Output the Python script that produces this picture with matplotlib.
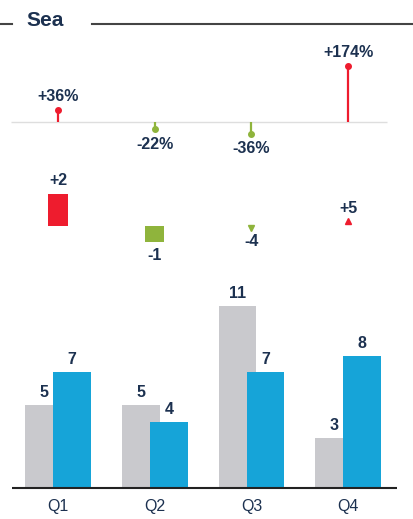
import numpy as np
import matplotlib.pyplot as plt

plt.rcParams['font.family'] = ['Liberation Sans', 'DejaVu Sans']

quarters = ['Q1', 'Q2', 'Q3', 'Q4']
py = [5, 5, 11, 3]
ac = [7, 4, 7, 8]
delta_abs = [2, -1, -4, 5]
delta_pct = [36, -22, -36, 174]
abs_as_bar = [True, True, False, False]   # Q3/Q4 only show a small marker in the original

red = '#ee1c2e'
green = '#8fb43c'
blue = '#16a4d8'
grey = '#c9c9cd'
navy = '#1c3150'
numfont = dict(fontsize=11.5, fontweight='bold', color=navy)

W, H = 414, 519
fig = plt.figure(figsize=(W / 100, H / 100), dpi=100)

def panel(top, bottom):
    ax = fig.add_axes([0, 1 - bottom / H, 1, (bottom - top) / H])
    ax.set_xlim(-0.6, 3.68)
    ax.axis('off')
    return ax

x = np.arange(len(quarters))

# title
fig.text(45 / W, 1 - 20 / H, 'Sea', fontsize=15, fontweight='bold', color=navy,
         ha='center', va='center')
fig.add_artist(plt.Line2D([0, 12 / W], [1 - 24 / H] * 2, color='#444444', lw=1.5))
fig.add_artist(plt.Line2D([92 / W, 1], [1 - 24 / H] * 2, color='#444444', lw=1.5))

# percentage variance (pins)
ax1 = panel(30, 165)
ax1.set_ylim(-134.4, 287.5)
ax1.hlines(0, -0.49, 3.4, color='#dedede', lw=1)
for i, v in enumerate(delta_pct):
    c = red if v > 0 else green
    ax1.vlines(i, 0, v, color=c, lw=1.6)
    ax1.plot(i, v, 'o', color=c, ms=4)
    ax1.annotate(f'{v:+d}%', (i, v), xytext=(0, 10 if v > 0 else -11),
                 textcoords='offset points', ha='center', va='center', **numfont)

# absolute variance
ax2 = panel(170, 270)
ax2.set_ylim(-2.75, 3.5)
for i, v in enumerate(delta_abs):
    c = red if v > 0 else green
    if abs_as_bar[i]:
        ax2.bar(i, v, width=0.2, color=c)
        pos = v
    else:
        pos = 0.3 if v > 0 else -0.12
        ax2.plot(i, pos, '^' if v > 0 else 'v', color=c, ms=4)
    ax2.annotate(f'{v:+d}', (i, pos), xytext=(0, 9.5 if v > 0 else -9.5),
                 textcoords='offset points', ha='center', va='center', **numfont)

# PY / AC bars
ax3 = panel(280, 488)
ax3.set_ylim(0, 12.6)
w = 0.39
ax3.bar(x - 0.145, py, width=w, color=grey)
ax3.bar(x + 0.145, ac, width=w, color=blue)
for i in range(len(quarters)):
    ax3.annotate(str(py[i]), (x[i] - 0.145, py[i]), xytext=(0, 9),
                 textcoords='offset points', ha='center', va='center', **numfont)
    ax3.annotate(str(ac[i]), (x[i] + 0.145, ac[i]), xytext=(0, 9),
                 textcoords='offset points', ha='center', va='center', **numfont)
    ax3.annotate(quarters[i], (x[i], 0), xytext=(0, -13),
                 textcoords='offset points', ha='center', va='center',
                 fontsize=11.5, color=navy, annotation_clip=False)
ax3.hlines(0, -0.476, 3.507, color='#222222', lw=1.5, clip_on=False)

fig.savefig('out.png', dpi=100)
